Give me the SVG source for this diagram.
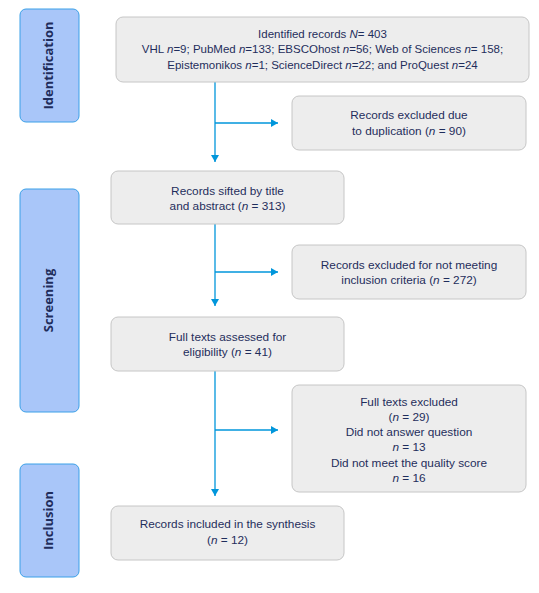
<svg xmlns="http://www.w3.org/2000/svg" width="539" height="593" viewBox="0 0 539 593">
<style>
.side{fill:#a9c6f9;stroke:#3aa0e8;stroke-width:1}
.st{font-family:"Open Sans","Liberation Sans",sans-serif;font-weight:bold;font-size:13px;fill:#1f2d5c;text-anchor:middle}
.box{fill:#ededed;stroke:#c6c6c6;stroke-width:1}
.t{font-family:"Liberation Sans",Arial,sans-serif;font-size:11.8px;fill:#1f2d5c;text-anchor:middle}
.t2{font-size:11.5px}
.c{stroke:#0096db;stroke-width:1.3;fill:none}
</style>
<defs>
<marker id="ah" markerWidth="8" markerHeight="8" refX="7" refY="4" orient="auto" markerUnits="userSpaceOnUse">
<path d="M0,0 L7,4 L0,8 Z" fill="#0096db"/>
</marker>
</defs>
<rect width="539" height="593" fill="#ffffff"/>
<g id="side-identification">
<rect class="side" x="20" y="9" width="59" height="113" rx="6"/>
<text class="st" transform="translate(53,65.5) rotate(-90)">Identification</text>
</g>
<g id="side-screening">
<rect class="side" x="20" y="189" width="59" height="223" rx="6"/>
<text class="st" transform="translate(53,300.5) rotate(-90)">Screening</text>
</g>
<g id="side-inclusion">
<rect class="side" x="20" y="464" width="59" height="113" rx="6"/>
<text class="st" transform="translate(53,520.5) rotate(-90)">Inclusion</text>
</g>
<g id="connectors">
<path class="c" d="M215,82 V162" marker-end="url(#ah)"/>
<path class="c" d="M215,123 H278" marker-end="url(#ah)"/>
<path class="c" d="M215,224 V306" marker-end="url(#ah)"/>
<path class="c" d="M215,272 H278" marker-end="url(#ah)"/>
<path class="c" d="M215,371 V496" marker-end="url(#ah)"/>
<path class="c" d="M215,430 H278" marker-end="url(#ah)"/>
</g>
<g id="identified">
<rect class="box" x="116" y="17" width="413" height="65" rx="7"/>
<text class="t t2" x="322.5" y="37.5">Identified records <tspan font-style="italic">N</tspan>= 403</text>
<text class="t t2" x="322.5" y="53">VHL <tspan font-style="italic">n</tspan>=9; PubMed <tspan font-style="italic">n</tspan>=133; EBSCOhost <tspan font-style="italic">n</tspan>=56; Web of Sciences <tspan font-style="italic">n</tspan>= 158;</text>
<text class="t t2" x="322.5" y="68.5">Epistemonikos <tspan font-style="italic">n</tspan>=1; ScienceDirect <tspan font-style="italic">n</tspan>=22; and ProQuest <tspan font-style="italic">n</tspan>=24</text>
</g>
<g id="duplication">
<rect class="box" x="292" y="96" width="234" height="54" rx="7"/>
<text class="t" x="409" y="119">Records excluded due</text>
<text class="t" x="409" y="134.5">to duplication (<tspan font-style="italic">n</tspan> = 90)</text>
</g>
<g id="sifted">
<rect class="box" x="111" y="171" width="233" height="53" rx="7"/>
<text class="t" x="227.5" y="195">Records sifted by title</text>
<text class="t" x="227.5" y="209.5">and abstract (<tspan font-style="italic">n</tspan> = 313)</text>
</g>
<g id="excluded-criteria">
<rect class="box" x="292" y="245" width="234" height="54" rx="7"/>
<text class="t" x="409" y="269">Records excluded for not meeting</text>
<text class="t" x="409" y="283.5">inclusion criteria (<tspan font-style="italic">n</tspan> = 272)</text>
</g>
<g id="fulltexts">
<rect class="box" x="111" y="317" width="233" height="54" rx="7"/>
<text class="t" x="227.5" y="341">Full texts assessed for</text>
<text class="t" x="227.5" y="356">eligibility (<tspan font-style="italic">n</tspan> = 41)</text>
</g>
<g id="fulltexts-excluded">
<rect class="box" x="292" y="385" width="234" height="107" rx="7"/>
<text class="t" x="409" y="406">Full texts excluded</text>
<text class="t" x="409" y="421">(<tspan font-style="italic">n</tspan> = 29)</text>
<text class="t" x="409" y="436">Did not answer question</text>
<text class="t" x="409" y="451"><tspan font-style="italic">n</tspan> = 13</text>
<text class="t" x="409" y="466.5">Did not meet the quality score</text>
<text class="t" x="409" y="482"><tspan font-style="italic">n</tspan> = 16</text>
</g>
<g id="included">
<rect class="box" x="111" y="506" width="233" height="54" rx="7"/>
<text class="t" x="227.5" y="528">Records included in the synthesis</text>
<text class="t" x="227.5" y="544">(<tspan font-style="italic">n</tspan> = 12)</text>
</g>
</svg>
